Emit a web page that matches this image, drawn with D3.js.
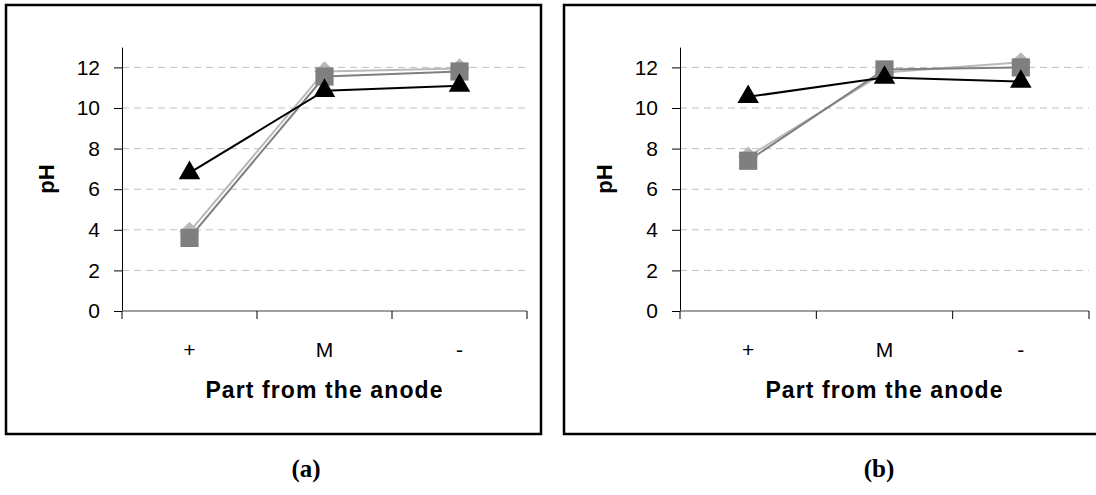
<!DOCTYPE html>
<html>
<head>
<meta charset="utf-8">
<script src="https://cdn.jsdelivr.net/npm/d3@7"></script>
<style>
  html, body { margin: 0; padding: 0; background: #fff; }
  svg { display: block; }
  text { font-family: "Liberation Sans", Arial, sans-serif; }
</style>
</head>
<body>
<svg id="chart" width="1096" height="495"></svg>
<script>
// Categories along the cell: anode side, middle, cathode side
const parts = ["+", "M", "-"];
const yTicks = [0, 2, 4, 6, 8, 10, 12];

// pH readings, panel (a)
const phA_diamond = [3.9, 11.8, 11.95];
const phA_square = [3.6, 11.55, 11.8];
const phA_triangle = [6.8, 10.85, 11.1];

// pH readings, panel (b)
const phB_diamond = [7.6, 11.75, 12.25];
const phB_square = [7.4, 11.9, 12.0];
const phB_triangle = [10.55, 11.5, 11.3];

const svg = d3.select("#chart");

const seriesStyle = [
  { key: "diamond", line: "#b8b8b8", fill: "#b8b8b8", symbol: d3.symbolDiamond2, size: 260 },
  { key: "square", line: "#7f7f7f", fill: "#7f7f7f", symbol: d3.symbolSquare, size: 330 },
  { key: "triangle", line: "#000000", fill: "#000000", symbol: d3.symbolTriangle, size: 200 }
];

function drawPanel(cfg) {
  const g = svg.append("g");

  // outer frame
  g.append("rect")
    .attr("x", cfg.frame[0]).attr("y", cfg.frame[1])
    .attr("width", cfg.frame[2]).attr("height", cfg.frame[3])
    .attr("fill", "none").attr("stroke", "#000").attr("stroke-width", 2.5);

  const x = d3.scaleBand().domain(parts).range([cfg.left, cfg.right]);
  const y = d3.scaleLinear().domain([0, 13]).range([cfg.bottom, cfg.bottom - 13 * cfg.unit]);

  // dashed horizontal gridlines
  g.append("g").selectAll("line")
    .data(yTicks.filter(d => d > 0))
    .join("line")
    .attr("x1", cfg.left).attr("x2", cfg.right)
    .attr("y1", d => y(d)).attr("y2", d => y(d))
    .attr("stroke", "#c0c0c0").attr("stroke-width", 1)
    .attr("stroke-dasharray", "7,5");

  // y axis
  const yAxis = g.append("g")
    .attr("transform", `translate(${cfg.left},0)`)
    .call(d3.axisLeft(y).tickValues(yTicks).tickSize(8).tickPadding(14).tickSizeOuter(0));
  yAxis.select(".domain").attr("stroke", "#000").attr("stroke-width", 1);
  yAxis.selectAll(".tick line").attr("stroke", "#000");
  yAxis.selectAll(".tick text").attr("font-size", 21).attr("fill", "#000")
    .style("font-family", "'Liberation Sans', Arial, sans-serif");

  // x axis with ticks on category boundaries
  const xg = g.append("g").attr("transform", `translate(0,${cfg.bottom})`);
  xg.append("line")
    .attr("x1", cfg.left).attr("x2", cfg.right)
    .attr("stroke", "#808080").attr("stroke-width", 1.5);
  const bounds = parts.map(p => x(p)).concat([x(parts[parts.length - 1]) + x.bandwidth()]);
  xg.selectAll("line.tk").data(bounds).join("line").attr("class", "tk")
    .attr("x1", d => d).attr("x2", d => d).attr("y1", 0).attr("y2", 8)
    .attr("stroke", "#000").attr("stroke-width", 1);
  xg.selectAll("text.lbl").data(parts).join("text").attr("class", "lbl")
    .attr("x", d => x(d) + x.bandwidth() / 2)
    .attr("y", 46)
    .attr("text-anchor", "middle")
    .attr("font-size", 21)
    .text(d => d);

  // axis titles
  g.append("text")
    .attr("x", (cfg.left + cfg.right) / 2).attr("y", cfg.bottom + 87)
    .attr("text-anchor", "middle").attr("font-size", 23).attr("font-weight", "bold")
    .attr("letter-spacing", 1.1)
    .text("Part from the anode");
  g.append("text")
    .attr("transform", `translate(${cfg.left - 68},${y(6.5)}) rotate(-90)`)
    .attr("text-anchor", "middle").attr("font-size", 22).attr("font-weight", "bold")
    .text("pH");

  // series lines and markers
  const line = d3.line().x((d, i) => x(parts[i]) + x.bandwidth() / 2).y(d => y(d));
  seriesStyle.forEach(s => {
    const vals = cfg.data[s.key];
    g.append("path").datum(vals)
      .attr("d", line).attr("fill", "none")
      .attr("stroke", s.line).attr("stroke-width", 2);
    g.append("g").selectAll("path").data(vals).join("path")
      .attr("transform", (d, i) => `translate(${x(parts[i]) + x.bandwidth() / 2},${y(d)})`)
      .attr("d", d3.symbol().type(s.symbol).size(s.size))
      .attr("fill", s.fill);
  });

  // panel caption
  svg.append("text")
    .attr("x", cfg.caption[0]).attr("y", cfg.caption[1])
    .attr("text-anchor", "middle")
    .style("font-family", "'Liberation Serif', 'Times New Roman', serif")
    .attr("font-size", 25).attr("font-weight", "bold")
    .text(cfg.caption[2]);
}

drawPanel({
  frame: [6, 5, 535, 429],
  left: 122, right: 527, bottom: 311, unit: 20.3,
  data: { diamond: phA_diamond, square: phA_square, triangle: phA_triangle },
  caption: [306, 477, "(a)"]
});

drawPanel({
  frame: [564, 5, 545, 429],
  left: 680, right: 1089, bottom: 311, unit: 20.3,
  data: { diamond: phB_diamond, square: phB_square, triangle: phB_triangle },
  caption: [879, 477, "(b)"]
});
</script>
</body>
</html>
